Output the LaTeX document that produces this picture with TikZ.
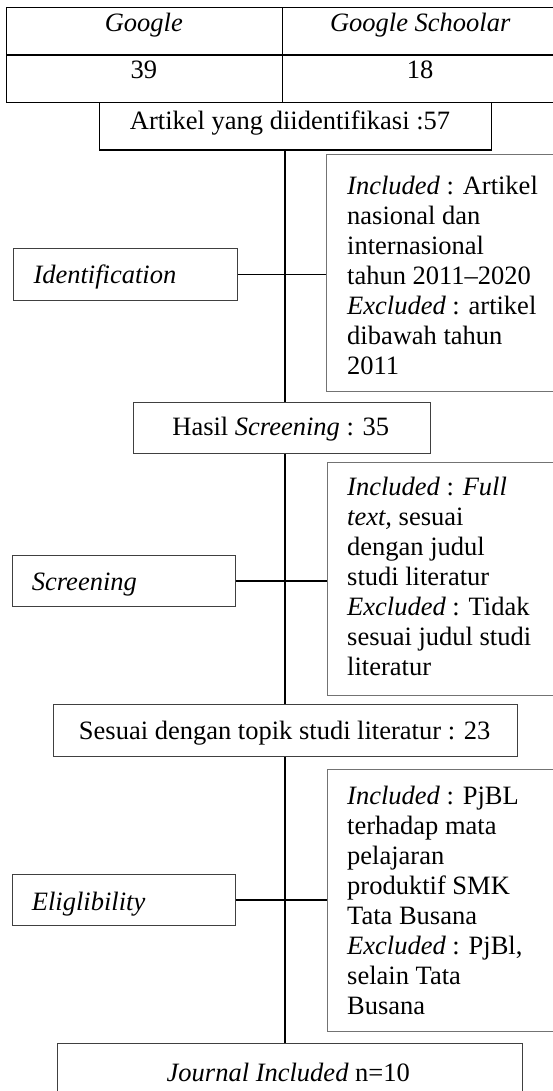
\documentclass[tikz,border=0pt]{standalone}
\usepackage{fontspec}
\setmainfont{Liberation Serif}
\begin{document}
\begin{tikzpicture}[x=1pt,y=-1pt,
  lab/.style={inner sep=0pt, font=\fontsize{26.5}{30}\selectfont},
  cell/.style={draw=black, line width=1.4pt, inner sep=0pt, anchor=north west, minimum width=276.3pt, minimum height=47.6pt},
  mainbox/.style={draw=black, line width=1.4pt, inner sep=0pt, anchor=north west},
  sidebox/.style={draw=black!75, line width=0.9pt, inner sep=0pt, anchor=north west},
  incbox/.style={draw=black!55, line width=0.9pt, inner sep=0pt, anchor=north west},
  link/.style={draw=black, line width=1.3pt}]
\useasboundingbox (0,0) rectangle (553,1091);
\fill[white] (0,0) rectangle (553,1091);
\coordinate (spine) at (285,0);

% table
\node[cell] (g1) at (5.7,6.7) {};
\node[cell] (g2) at (282,6.7) {};
\node[cell] (n1) at (5.7,54.3) {};
\node[cell] (n2) at (282,54.3) {};
\node[lab, anchor=base] (tg1) at (143.85,31.7) {\textit{Google}};
\node[lab, anchor=base] (tg2) at (420.2,31.7) {\textit{Google Schoolar}};
\node[lab, anchor=base] (tn1) at (143.85,78.3) {39};
\node[lab, anchor=base] (tn2) at (420.2,78.3) {18};

% identified
\node[mainbox, minimum width=392pt, minimum height=47.6pt] (art) at (99,101.7) {};
\node[lab, anchor=base] (tart) at (290,129.3) {Artikel yang diidentifikasi :57};

% identification stage
\node[sidebox, minimum width=223.4pt, minimum height=51.7pt] (ident) at (13.3,248.3) {};
\node[lab, anchor=base west] (tident) at (33.3,283.3) {\textit{Identification}};
\node[incbox, minimum width=240pt, minimum height=237pt] (inc1) at (326,154.3) {};
\node[lab, align=left, anchor=north west] (tinc1) at (347,173) {\strut\textit{Included} : Artikel\\nasional dan\\internasional\\tahun 2011–2020\\\textit{Excluded} : artikel\\dibawah tahun\\2011};

% screening result
\node[sidebox, minimum width=296.7pt, minimum height=51pt] (hasil) at (133.3,401.7) {};
\node[lab, anchor=base] (thasil) at (280.8,435.8) {Hasil \textit{Screening} : 35};

% screening stage
\node[sidebox, minimum width=223.3pt, minimum height=51pt] (scr) at (11.7,555) {};
\node[lab, anchor=base west] (tscr) at (31.7,590) {\textit{Screening}};
\node[incbox, minimum width=240pt, minimum height=232.7pt] (inc2) at (326.7,462.3) {};
\node[lab, align=left, anchor=north west] (tinc2) at (347,473.8) {\strut\textit{Included} : \textit{Full}\\\textit{text,} sesuai\\dengan judul\\studi literatur\\\textit{Excluded} : Tidak\\sesuai judul studi\\literatur};

% topic match
\node[sidebox, minimum width=464.6pt, minimum height=51.7pt] (sesuai) at (52.7,704.3) {};
\node[lab, anchor=base] (tsesuai) at (284.7,739.3) {Sesuai dengan topik studi literatur : 23};

% eligibility stage
\node[sidebox, minimum width=222.7pt, minimum height=50.7pt] (elig) at (12.3,874.3) {};
\node[lab, anchor=base west] (telig) at (31.7,910) {\textit{Eliglibility}};
\node[incbox, minimum width=240pt, minimum height=261.7pt] (inc3) at (326.7,769.3) {};
\node[lab, align=left, anchor=north west] (tinc3) at (347,783) {\strut\textit{Included} : PjBL\\terhadap mata\\pelajaran\\produktif SMK\\Tata Busana\\\textit{Excluded} : PjBl,\\selain Tata\\Busana};

% final
\node[sidebox, minimum width=465pt, minimum height=70pt] (journal) at (56.7,1043.3) {};
\node[lab, anchor=base] (tjournal) at (288.3,1081) {\textit{Journal Included} n=10};

% connectors
\draw[link] (art.south -| spine) -- (hasil.north -| spine);
\draw[link] (hasil.south -| spine) -- (sesuai.north -| spine);
\draw[link] (sesuai.south -| spine) -- (journal.north -| spine);
\draw[link] (ident.east) -- (ident.east -| inc1.west);
\draw[link] (scr.east) -- (scr.east -| inc2.west);
\draw[link] (elig.east) -- (elig.east -| inc3.west);
\end{tikzpicture}
\end{document}
